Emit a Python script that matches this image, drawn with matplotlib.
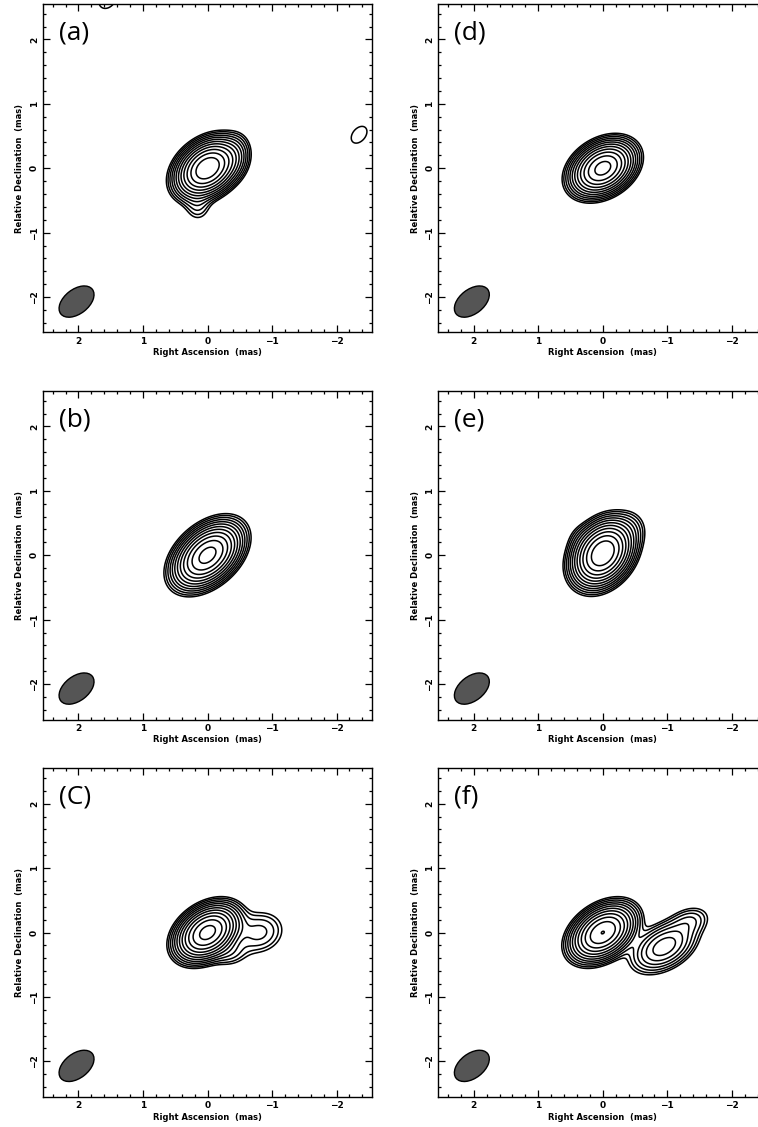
import numpy as np
import matplotlib
matplotlib.use('Agg')
import matplotlib.pyplot as plt
from matplotlib.patches import Ellipse
from matplotlib.ticker import MultipleLocator

# contour levels (relative flux)
levels = [0.02, 0.028, 0.04, 0.057, 0.08, 0.113, 0.16, 0.226, 0.32, 0.453, 0.64, 0.905]

# gaussian components per panel: (flux, RA offset, Dec offset, fwhm major, fwhm minor, PA deg)
comp_a = [(1.25, 0.00, 0.00, 0.58, 0.41, -52),
          (0.06, -0.42, 0.18, 0.45, 0.30, -10),
          (0.035, 0.15, -0.60, 0.35, 0.30, 0),
          (0.027, -2.35, 0.52, 0.45, 0.30, -40),
          (0.03, 1.55, 2.62, 0.40, 0.30, -40)]
comp_b = [(1.05, 0.00, 0.00, 0.66, 0.42, -48)]
comp_c = [(1.05, 0.00, 0.00, 0.58, 0.40, -55),
          (0.065, -0.80, 0.00, 0.55, 0.45, -70),
          (0.04, -0.35, -0.32, 0.40, 0.30, -80)]
comp_d = [(1.05, 0.00, 0.00, 0.57, 0.40, -58)]
comp_e = [(1.27, 0.00, 0.03, 0.60, 0.44, -37),
          (0.025, -0.45, 0.42, 0.40, 0.35, 0),
          (0.015, 0.35, 0.25, 0.35, 0.30, 0)]
comp_f = [(0.91, 0.00, 0.00, 0.60, 0.40, -55),
          (0.20, -0.95, -0.22, 0.66, 0.40, -60),
          (0.05, -1.35, 0.18, 0.45, 0.30, -70)]

panel_labels = ['(a)', '(b)', '(C)', '(d)', '(e)', '(f)']
panel_comps = [comp_a, comp_b, comp_c, comp_d, comp_e, comp_f]

# restoring beam
beam_ra, beam_dec = 2.03, -2.07
beam_maj, beam_min, beam_pa = 0.62, 0.38, -52

W, H = 758, 1127
fig = plt.figure(figsize=(W / 100, H / 100), dpi=100)

col_x = [43, 438.3]
row_top = [4, 391, 768.3]
size_w, size_h = 329, 328.5

grid = np.linspace(-2.55, 2.55, 500)
X, Y = np.meshgrid(grid, grid)


def model_image(comps):
    Z = np.zeros_like(X)
    for flux, x0, y0, bmaj, bmin, pa in comps:
        t = np.deg2rad(pa)
        dx, dy = X - x0, Y - y0
        u = dx * np.sin(t) + dy * np.cos(t)
        v = dx * np.cos(t) - dy * np.sin(t)
        Z += flux * np.exp(-4 * np.log(2) * ((u / bmaj) ** 2 + (v / bmin) ** 2))
    return Z


for i, (label, comps) in enumerate(zip(panel_labels, panel_comps)):
    col, row = i // 3, i % 3
    left = col_x[col] / W
    bottom = (H - row_top[row] - size_h) / H
    ax = fig.add_axes([left, bottom, size_w / W, size_h / H])

    ax.contour(X, Y, model_image(comps), levels=levels, colors='k', linewidths=1.1)

    # data angle measured from +RA axis; x axis is inverted
    beam = Ellipse((beam_ra, beam_dec), beam_maj, beam_min, angle=90 - beam_pa,
                   facecolor='#555555', edgecolor='k', linewidth=1.0)
    ax.add_patch(beam)

    ax.set_xlim(2.55, -2.55)
    ax.set_ylim(-2.55, 2.55)
    ax.xaxis.set_major_locator(MultipleLocator(1))
    ax.yaxis.set_major_locator(MultipleLocator(1))
    ax.xaxis.set_minor_locator(MultipleLocator(0.2))
    ax.yaxis.set_minor_locator(MultipleLocator(0.2))
    ax.tick_params(which='both', direction='in', top=True, right=True, width=0.9,
                   labelsize=6.5, pad=3)
    ax.tick_params(which='major', length=5)
    ax.tick_params(which='minor', length=2.5)
    for t in ax.get_xticklabels() + ax.get_yticklabels():
        t.set_fontweight('bold')
    for t in ax.get_yticklabels():
        t.set_rotation(90)
        t.set_va('center')
    for sp in ax.spines.values():
        sp.set_linewidth(1.0)

    ax.set_xlabel('Right Ascension  (mas)', fontsize=6, fontweight='bold', labelpad=2)
    ax.set_ylabel('Relative Declination  (mas)', fontsize=6, fontweight='bold', labelpad=4)

    ax.text(0.049, 0.913, label, transform=ax.transAxes, fontsize=19,
            family='Open Sans', ha='left', va='center')

fig.savefig('out.png', dpi=100)
